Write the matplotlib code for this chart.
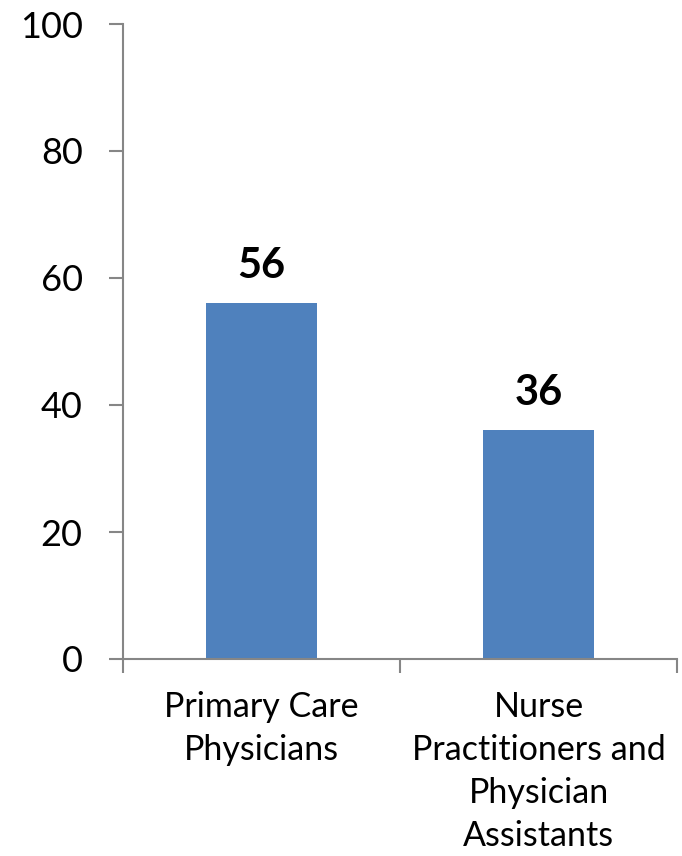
import matplotlib.pyplot as plt
from matplotlib.ticker import FixedLocator, NullFormatter

plt.rcParams['font.family'] = ['Lato', 'DejaVu Sans']

categories = ["Primary Care\nPhysicians", "Nurse\nPractitioners and\nPhysician\nAssistants"]
values = [56, 36]
y_ticks = [0, 20, 40, 60, 80, 100]

bar_color = "#4F81BD"
axis_color = "#868686"

fig = plt.figure(figsize=(6.82, 8.56), dpi=100)
ax = fig.add_axes([123 / 682, 1 - 659 / 856, 554 / 682, 635 / 856])

pos = list(range(len(categories)))
bars = ax.bar(pos, values, width=0.4, color=bar_color, zorder=2)

for b, v in zip(bars, values):
    ax.annotate(str(v), (b.get_x() + b.get_width() / 2, v),
                xytext=(0, 18), textcoords="offset points",
                ha="center", va="baseline", fontsize=30, fontweight="bold")

ax.set_xlim(-0.5, len(categories) - 0.5)
ax.set_ylim(0, 100)
ax.set_yticks(y_ticks)
ax.set_yticklabels([str(t) for t in y_ticks])

# category boundaries carry the tick marks, labels sit in the middle
ax.xaxis.set_major_locator(FixedLocator([p - 0.5 for p in pos] + [pos[-1] + 0.5]))
ax.xaxis.set_major_formatter(NullFormatter())
ax.xaxis.set_minor_locator(FixedLocator(pos))
ax.set_xticklabels(categories, minor=True, fontsize=24.5, linespacing=1.43)
ax.tick_params(axis="x", which="minor", length=0, pad=23)
ax.tick_params(axis="x", which="major", direction="out", length=10,
               width=1.5, color=axis_color)
ax.tick_params(axis="y", direction="out", length=10, width=1.5,
               color=axis_color, labelsize=26, pad=19)

for side in ["top", "right"]:
    ax.spines[side].set_visible(False)
for side in ["left", "bottom"]:
    ax.spines[side].set_color(axis_color)
    ax.spines[side].set_linewidth(1.5)

fig.savefig("out.png", dpi=100)
